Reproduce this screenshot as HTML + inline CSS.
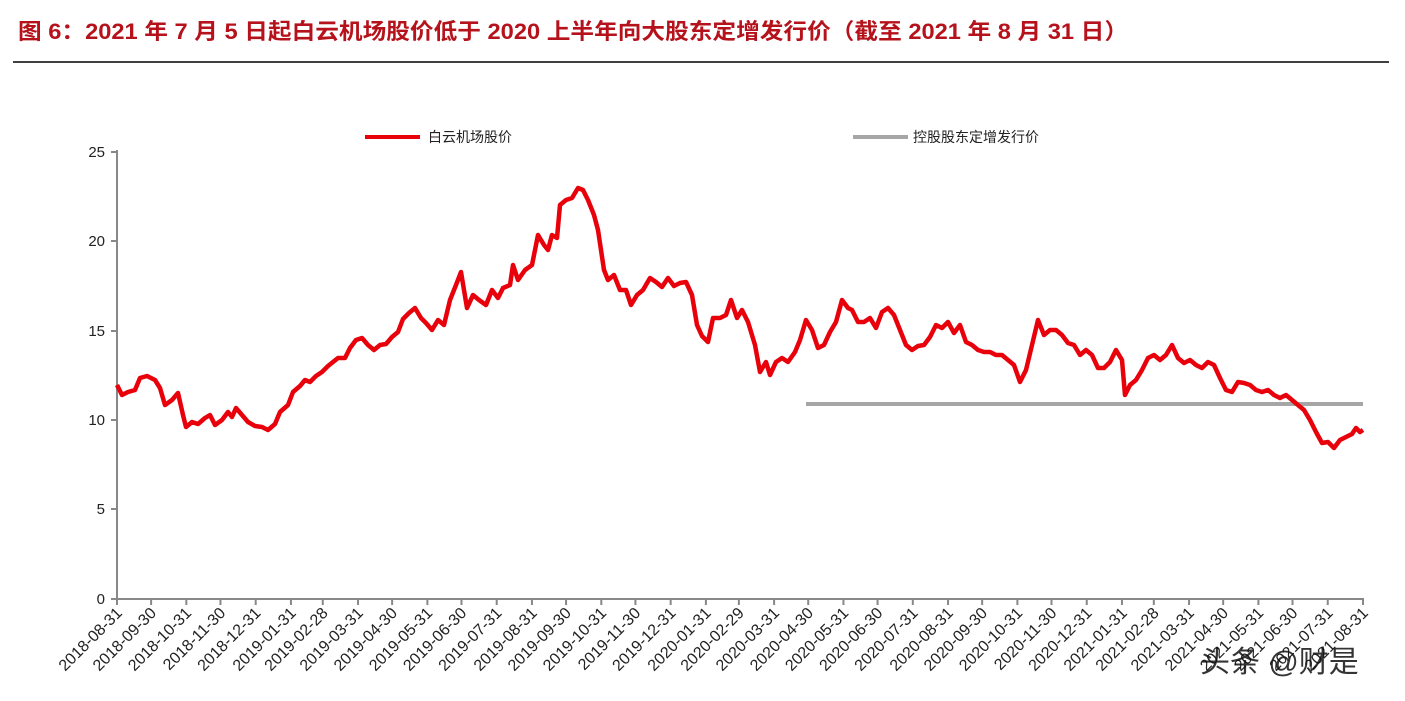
<!DOCTYPE html>
<html><head><meta charset="utf-8"><style>
body{margin:0;background:#fff;}
svg{display:block;font-family:"Liberation Sans","Noto Sans CJK SC",sans-serif;}
</style></head><body>
<svg width="1405" height="701" viewBox="0 0 1405 701" xmlns="http://www.w3.org/2000/svg">
<text x="18" y="39" font-size="22" font-weight="bold" fill="#b5121b" textLength="1110" lengthAdjust="spacingAndGlyphs">图  6：2021 年 7 月 5 日起白云机场股价低于 2020 上半年向大股东定增发行价（截至 2021 年 8 月 31 日）</text>
<line x1="13" y1="62" x2="1389" y2="62" stroke="#000" stroke-width="1.5"/>
<line x1="365" y1="137" x2="420" y2="137" stroke="#e8000b" stroke-width="4"/>
<text x="428" y="142" font-size="14" fill="#222">白云机场股价</text>
<line x1="853" y1="137" x2="908" y2="137" stroke="#a6a6a6" stroke-width="4"/>
<text x="913" y="142" font-size="14" fill="#222">控股股东定增发行价</text>
<g stroke="#888" stroke-width="2">
<line x1="117" y1="150" x2="117" y2="600"/>
<line x1="116" y1="599" x2="1364" y2="599"/>
<line x1="111" y1="152" x2="117" y2="152"/>
<line x1="111" y1="241" x2="117" y2="241"/>
<line x1="111" y1="331" x2="117" y2="331"/>
<line x1="111" y1="420" x2="117" y2="420"/>
<line x1="111" y1="509" x2="117" y2="509"/>
<line x1="111" y1="599" x2="117" y2="599"/>
</g>
<g font-size="15" fill="#222" text-anchor="end">
<text x="105" y="157">25</text><text x="105" y="246">20</text><text x="105" y="336">15</text>
<text x="105" y="425">10</text><text x="105" y="514">5</text><text x="105" y="604">0</text>
</g>
<g id="xt" stroke="#888" stroke-width="2"></g>
<g id="xl" font-size="16" fill="#222" text-anchor="end"></g>
<line x1="806" y1="404" x2="1363" y2="404" stroke="#a6a6a6" stroke-width="4"/>
<polyline fill="none" stroke="#e8000b" stroke-width="4.5" stroke-linejoin="round" points="117,385 122,395 128,392 135,390 140,378 147,376 155,380 160,388 165,405 172,400 178,393 183,415 186,427 192,422 198,424 205,418 210,415 215,425 222,420 228,412 232,417 236,408 242,415 248,422 255,426 262,427 268,430 275,424 280,412 288,405 293,392 300,386 305,380 310,382 316,376 322,372 328,366 333,362 338,358 345,358 350,348 356,340 362,338 368,345 374,350 380,345 386,344 392,337 398,332 403,319 409,313 415,308 421,318 426,323 432,330 438,320 444,325 450,300 456,285 461,272 467,308 473,295 479,300 486,305 492,290 498,298 503,288 510,285 513,265 518,280 525,270 532,265 538,235 544,245 548,250 552,235 557,238 560,205 566,200 572,198 578,188 583,190 588,200 594,215 598,230 604,270 608,280 614,275 620,290 626,290 631,305 637,295 643,290 650,278 656,282 662,287 668,278 674,286 680,283 686,282 692,295 697,325 702,336 708,342 713,318 720,318 726,315 731,300 737,318 742,310 748,322 755,345 760,372 766,362 770,375 776,362 782,358 788,362 795,352 800,340 806,320 812,330 818,348 824,345 830,332 836,322 842,300 848,308 852,310 858,322 864,322 870,318 876,328 882,312 888,308 894,315 900,330 906,345 912,350 918,346 924,345 930,337 936,325 942,328 948,322 954,333 960,325 966,342 972,345 978,350 984,352 990,352 996,355 1002,355 1008,360 1014,365 1020,382 1026,370 1032,345 1038,320 1044,335 1050,330 1056,330 1062,335 1068,343 1074,345 1080,355 1086,350 1092,355 1098,368 1104,368 1110,362 1116,350 1122,360 1125,395 1130,385 1136,380 1142,370 1148,358 1154,355 1160,360 1166,355 1172,345 1178,358 1184,363 1190,360 1196,365 1202,368 1208,362 1214,365 1220,378 1226,390 1232,392 1238,382 1244,383 1250,385 1256,390 1262,392 1268,390 1274,395 1280,398 1286,395 1292,400 1298,405 1304,410 1310,420 1316,432 1322,443 1328,442 1334,448 1340,440 1346,437 1352,434 1356,428 1360,432 1363,430"/>
<text x="1200" y="672" font-size="30" fill="#111" opacity="0.85">头条 @财是</text>
<script>
var labels=["2018-08-31","2018-09-30","2018-10-31","2018-11-30","2018-12-31","2019-01-31","2019-02-28","2019-03-31","2019-04-30","2019-05-31","2019-06-30","2019-07-31","2019-08-31","2019-09-30","2019-10-31","2019-11-30","2019-12-31","2020-01-31","2020-02-29","2020-03-31","2020-04-30","2020-05-31","2020-06-30","2020-07-31","2020-08-31","2020-09-30","2020-10-31","2020-11-30","2020-12-31","2021-01-31","2021-02-28","2021-03-31","2021-04-30","2021-05-31","2021-06-30","2021-07-31","2021-08-31"];
var t0=Date.UTC(2018,7,31),t1=Date.UTC(2021,7,31);
var ns="http://www.w3.org/2000/svg",xt=document.getElementById("xt"),xl=document.getElementById("xl");
labels.forEach(function(s){var p=s.split("-");var t=Date.UTC(+p[0],+p[1]-1,+p[2]);
var x=117+(t-t0)/(t1-t0)*1246;
var l=document.createElementNS(ns,"line");l.setAttribute("x1",x);l.setAttribute("x2",x);l.setAttribute("y1",599);l.setAttribute("y2",605);xt.appendChild(l);
var tx=document.createElementNS(ns,"text");tx.setAttribute("transform","translate("+(x+6)+",614) rotate(-45)");tx.textContent=s;xl.appendChild(tx);});
</script>
</svg>
</body></html>
